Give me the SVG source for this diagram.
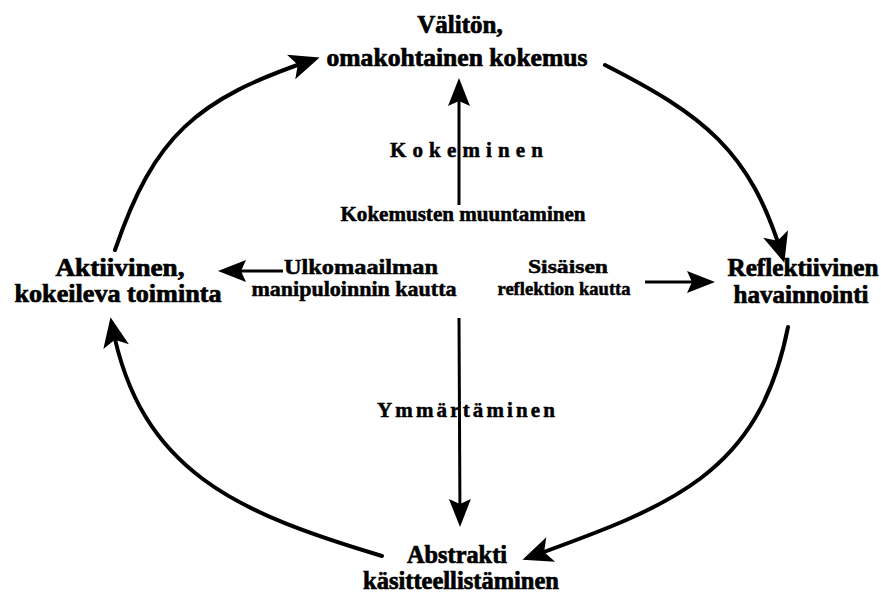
<svg xmlns="http://www.w3.org/2000/svg" width="881" height="597" viewBox="0 0 881 597">
<style>
.main{font-family:"Liberation Serif","Times New Roman",serif;font-weight:bold;font-size:25px;fill:#000;stroke:#000;stroke-width:0.7;text-anchor:middle}
.mid{font-family:"Liberation Serif","Times New Roman",serif;font-weight:bold;fill:#000;stroke:#000;stroke-width:0.5;text-anchor:middle}
.spaced{font-family:"Liberation Serif","Times New Roman",serif;font-weight:bold;font-size:21px;fill:#000;stroke:#000;stroke-width:0.5}
.arc{fill:none;stroke:#000;stroke-width:4;stroke-linecap:round}
.line{fill:none;stroke:#000;stroke-width:3}
</style>
<defs>
<marker id="bigHead" markerUnits="userSpaceOnUse" markerWidth="32" markerHeight="28" viewBox="0 -14 32 28" refX="22" refY="0" orient="auto" overflow="visible">
<path d="M0,-13 L30,0 L0,13 L7,0 Z" fill="#000"/>
</marker>
<marker id="head" markerUnits="userSpaceOnUse" markerWidth="30" markerHeight="24" viewBox="0 -12 30 24" refX="22" refY="0" orient="auto" overflow="visible">
<path d="M0,-11 L28,0 L0,11 L5,0 Z" fill="#000"/>
</marker>
</defs>

<g id="connectors">
<path class="arc" d="M115,250 C154,136 196,99 312,60" marker-end="url(#bigHead)"/>
<path class="arc" d="M605,65 C703,115 750,150 782,255" marker-end="url(#bigHead)"/>
<path class="arc" d="M788,327 C759,474 671,506 530,557" marker-end="url(#bigHead)"/>
<path class="arc" d="M382,556 C238,513 140,472 112,325" marker-end="url(#bigHead)"/>
<path class="line" d="M459,205 L459,84" marker-end="url(#head)"/>
<path class="line" d="M459,318 L460,521" marker-end="url(#head)"/>
<path class="line" d="M283,271 L224,271" marker-end="url(#head)"/>
<path class="line" d="M645,282 L709,282" marker-end="url(#head)"/>
</g>

<g id="node-top">
<text class="main" x="460" y="33">Välitön,</text>
<text class="main" x="457" y="66" textLength="261" lengthAdjust="spacingAndGlyphs">omakohtainen kokemus</text>
</g>
<g id="node-left">
<text class="main" x="120" y="276" textLength="129" lengthAdjust="spacingAndGlyphs">Aktiivinen,</text>
<text class="main" x="118" y="302" textLength="207" lengthAdjust="spacingAndGlyphs">kokeileva toiminta</text>
</g>
<g id="node-right">
<text class="main" x="803" y="276" textLength="151" lengthAdjust="spacingAndGlyphs">Reflektiivinen</text>
<text class="main" x="801" y="303" textLength="135" lengthAdjust="spacingAndGlyphs">havainnointi</text>
</g>
<g id="node-bottom">
<text class="main" x="457" y="563" textLength="100" lengthAdjust="spacingAndGlyphs">Abstrakti</text>
<text class="main" x="461" y="589" textLength="196" lengthAdjust="spacingAndGlyphs">käsitteellistäminen</text>
</g>

<g id="label-kokeminen">
<text class="spaced" x="390" y="157" textLength="153" lengthAdjust="spacing">Kokeminen</text>
</g>
<g id="label-muuntaminen">
<text class="mid" x="463" y="221" font-size="20" textLength="245" lengthAdjust="spacingAndGlyphs">Kokemusten muuntaminen</text>
</g>
<g id="label-ulkomaailman">
<text class="mid" x="361" y="274" font-size="21" textLength="154" lengthAdjust="spacingAndGlyphs">Ulkomaailman</text>
<text class="mid" x="354" y="296" font-size="21" textLength="205" lengthAdjust="spacingAndGlyphs">manipuloinnin kautta</text>
</g>
<g id="label-sisaisen">
<text class="mid" x="568" y="273" font-size="19" textLength="80" lengthAdjust="spacingAndGlyphs">Sisäisen</text>
<text class="mid" x="564" y="295" font-size="19" textLength="133" lengthAdjust="spacingAndGlyphs">reflektion kautta</text>
</g>
<g id="label-ymmartaminen">
<text class="spaced" x="377" y="417" textLength="178" lengthAdjust="spacing">Ymmärtäminen</text>
</g>
</svg>
